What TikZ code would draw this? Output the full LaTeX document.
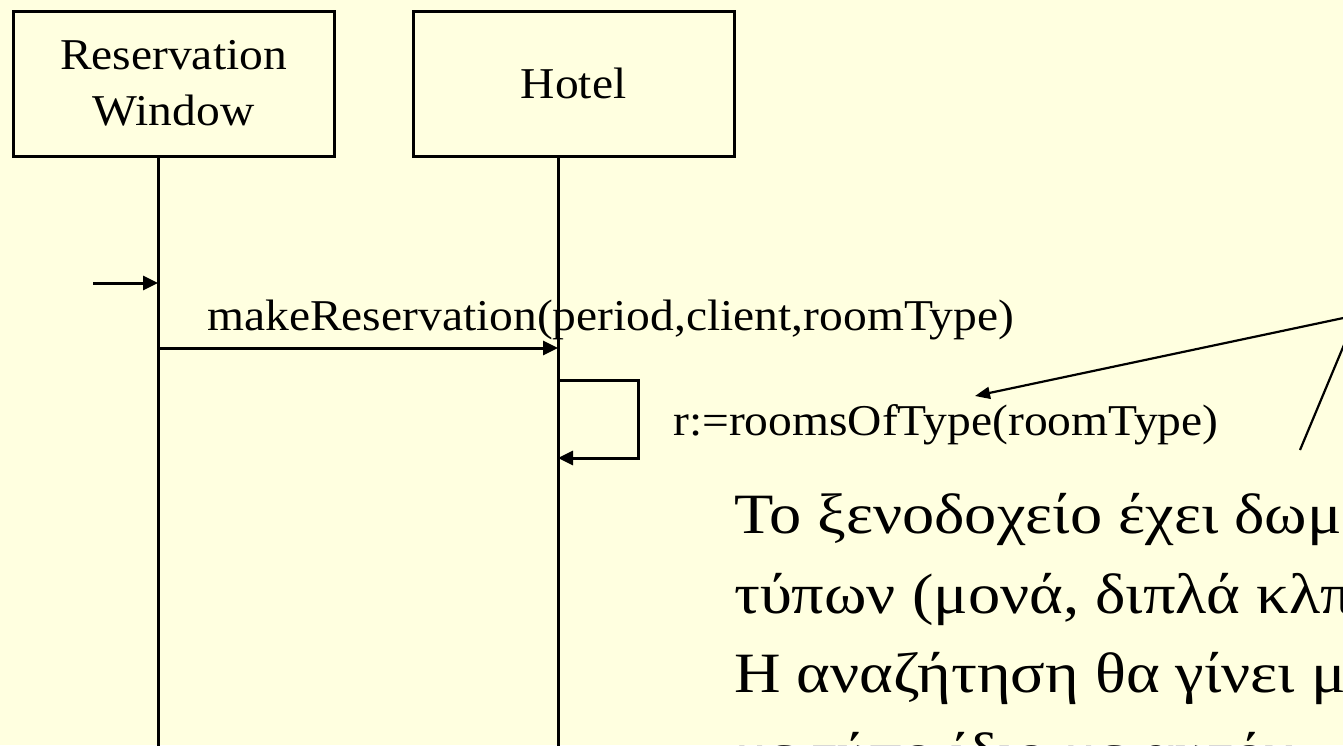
\documentclass[tikz,border=0pt]{standalone}
\usepackage{fontspec}
\usepackage{graphicx}
\setmainfont{Liberation Serif}
\usetikzlibrary{arrows.meta}
\definecolor{bgyellow}{RGB}{255,255,224}
\newcommand{\wide}[1]{\scalebox{1.08}[1]{#1}}
\newcommand{\gwide}[1]{\scalebox{1.13}[1]{#1}}
\tikzset{
  obj/.style={draw=black, line width=3pt, minimum width=321pt, minimum height=145pt,
    inner sep=0pt, align=center, font=\fontsize{44}{56}\selectfont},
  lifeline/.style={line width=3pt},
  msg/.style={line width=3pt, -{Triangle[length=15pt,width=14pt]}},
  msglabel/.style={anchor=base west, inner sep=0pt, font=\fontsize{44}{56}\selectfont},
  noteline/.style={line width=2.2pt},
  notetext/.style={anchor=base west, inner sep=0pt, align=left,
    font=\fontsize{57}{79.5}\selectfont}
}
\begin{document}
\begin{tikzpicture}[x=1pt,y=-1pt]
\useasboundingbox (0,0) rectangle (1343,745);
\fill[bgyellow] (0,0) rectangle (1343,745);
\clip (0,0) rectangle (1343,745);

% objects
\node[obj] (rw) at (173.5,83.5) {\wide{Reservation}\\\wide{Window}};
\node[obj] (hotel) at (573.5,83.5) {\wide{Hotel}};

% lifeline coordinates
\coordinate (rwtop) at (158,156);
\coordinate (rwbot) at (158,760);
\coordinate (htop) at (558,156);
\coordinate (hbot) at (558,760);
\draw[lifeline] (rwtop) -- (rwbot);
\draw[lifeline] (htop) -- (hbot);

% found message
\coordinate (found) at (93,283);
\coordinate (rwin) at (158,283);
\draw[msg] (found) -- (rwin);

% makeReservation
\coordinate (m1s) at (158,348);
\coordinate (m1e) at (558,348);
\draw[msg] (m1s) -- (m1e);
\node[msglabel] (m1lab) at (207,330) {\wide{makeReservation(period,client,roomType)}};

% self call
\coordinate (s1) at (558,380);
\coordinate (s2) at (638,380);
\coordinate (s3) at (638,458);
\coordinate (s4) at (558,458);
\draw[msg] (s1) -- (s2) -- (s3) -- (s4);
\node[msglabel] (slab) at (673,435) {\wide{r:=roomsOfType(roomType)}};

% note text (anchored at the baseline of its last line)
\node[notetext] (note) at (734,772) {\gwide{Το ξενοδοχείο έχει δωμάτια}\\\gwide{τύπων (μονά, διπλά κλπ)}\\\gwide{Η αναζήτηση θα γίνει μόνο}\\\gwide{με τύπο ίδιο με αυτόν}};

% note lines (from an off-picture note)
\coordinate (na) at (1400,306);
\coordinate (tip) at (975,396);
\draw[noteline, -{Triangle[length=15pt,width=12pt]}] (na) -- (tip);
\coordinate (nb) at (1400,211);
\coordinate (nbend) at (1300,450);
\draw[noteline] (nb) -- (nbend);
\end{tikzpicture}
\end{document}
